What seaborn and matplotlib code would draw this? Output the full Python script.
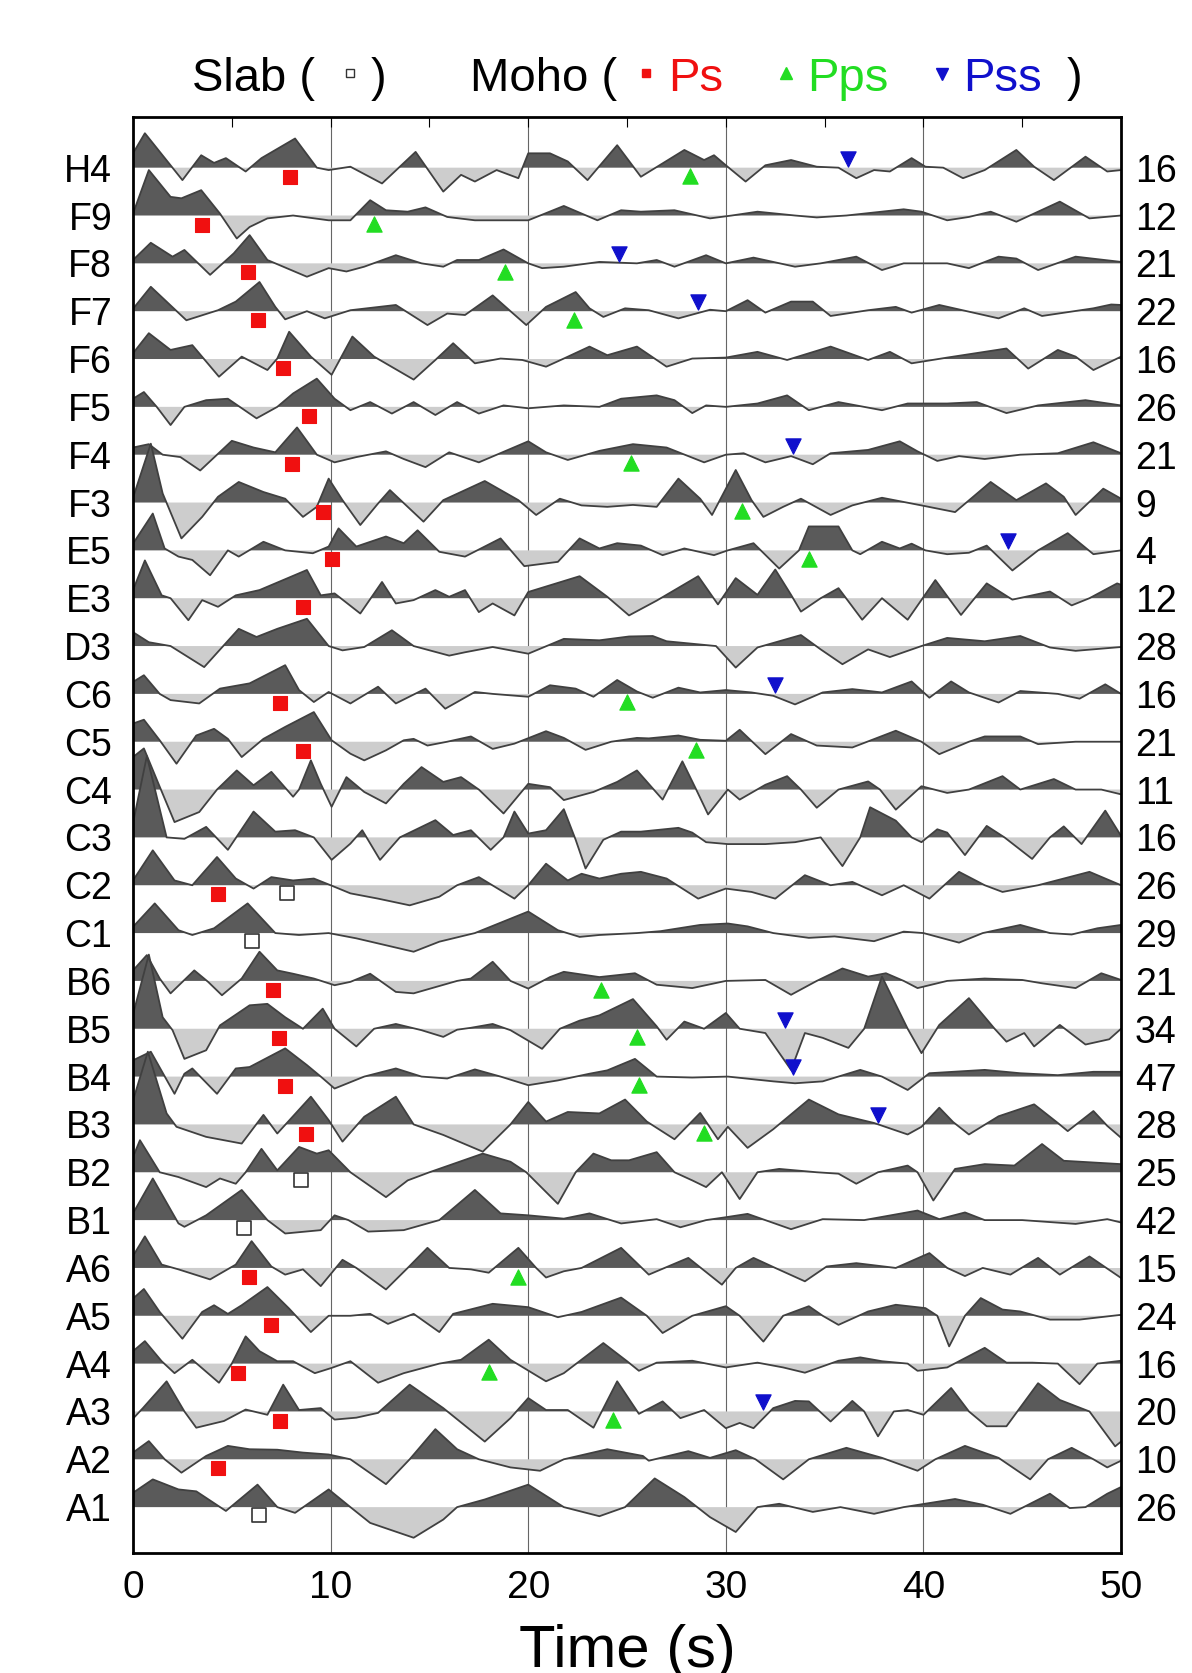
import numpy as np
import seaborn as sns
import matplotlib
matplotlib.use("Agg")
import matplotlib.pyplot as plt

# stations from top to bottom and the count shown at the right
stations = ["H4", "F9", "F8", "F7", "F6", "F5", "F4", "F3", "E5", "E3", "D3",
            "C6", "C5", "C4", "C3", "C2", "C1", "B6", "B5", "B4", "B3", "B2",
            "B1", "A6", "A5", "A4", "A3", "A2", "A1"]
counts = [16, 12, 21, 22, 16, 26, 21, 9, 4, 12, 28, 16, 21, 11, 16, 26, 29,
          21, 34, 47, 28, 25, 42, 15, 24, 16, 20, 10, 26]

# traces: (time s, amplitude in trace spacings)
H4 = [(0, 0.3), (0.6, 0.72), (2.5, -0.26), (3.45, 0.26), (4.1, 0.1), (4.7, 0.2), (5.7, -0.08), (6.5, 0.2), (8.2, 0.61), (9.3, 0), (9.9, -0.05), (11.0, 0.02), (12.6, -0.33), (14.3, 0.33), (15.7, -0.5), (16.6, -0.15), (17.3, -0.29), (18.4, -0.05), (19.5, -0.22), (20.0, 0.3), (21.1, 0.3), (22.0, 0.13), (23.0, -0.26), (24.5, 0.47), (25.7, -0.19), (27.9, 0.37), (28.9, 0.16), (29.4, 0.26), (30.0, 0.05), (31.0, -0.29), (32.0, 0.05), (33.3, 0.16), (34.6, 0.02), (35.7, 0), (36.6, -0.22), (37.5, -0.05), (38.3, -0.08), (39.4, 0.2), (40.1, 0.02), (41.0, 0), (42.0, -0.22), (43.1, -0.05), (44.7, 0.37), (45.6, 0.02), (46.6, -0.26), (48.2, 0.23), (49.3, -0.08), (50, -0.05)]
F9 = [(0, 0.04), (0.8, 0.95), (1.9, 0.39), (2.45, 0.36), (3.45, 0.53), (4.4, 0.04), (5.25, -0.48), (5.9, -0.24), (6.8, -0.06), (8.1, 0), (9.9, -0.1), (11.0, -0.1), (12.0, 0.32), (12.8, 0.11), (13.9, 0.08), (14.8, 0.17), (15.9, -0.03), (17.3, -0.1), (18.8, -0.1), (20.0, -0.1), (21.8, 0.2), (23.5, -0.1), (24.7, 0.11), (25.7, 0.08), (27.4, 0.11), (29.2, -0.06), (30.3, 0), (31.6, 0.08), (33.5, 0), (34.6, -0.04), (36.1, 0), (39.0, 0.13), (39.9, 0.08), (41.2, -0.1), (42.3, -0.03), (43.4, 0.08), (44.7, -0.13), (46.9, 0.29), (48.4, -0.06), (50, 0)]
F8 = [(0, 0.07), (0.9, 0.43), (2.0, 0.14), (2.6, 0.28), (3.9, -0.24), (5.1, 0.21), (5.9, 0.59), (6.8, 0.07), (8.8, -0.28), (9.9, -0.1), (10.8, -0.17), (11.7, -0.07), (13.3, 0.17), (14.6, 0), (15.7, -0.07), (16.4, 0.07), (17.5, 0.07), (18.75, 0.29), (20.0, 0), (20.7, -0.1), (21.8, -0.07), (23.6, 0.03), (25.5, 0), (26.5, 0.07), (27.4, -0.07), (29.0, 0.17), (30.0, 0), (31.4, 0.12), (33.5, -0.07), (34.8, 0), (36.6, 0.14), (37.9, -0.14), (39.0, 0), (41.2, 0), (42.3, -0.1), (43.8, 0.14), (44.7, 0.1), (45.8, -0.14), (47.7, 0.14), (50, 0.03)]
F7 = [(0, 0.05), (0.9, 0.51), (2.7, -0.19), (4.3, 0.02), (5.2, 0.2), (6.4, 0.61), (7.2, 0.09), (7.7, -0.17), (8.8, 0), (9.7, -0.15), (11.0, 0.02), (13.3, 0.13), (14.9, -0.29), (15.9, -0.05), (16.8, -0.08), (18.2, 0.33), (19.1, 0), (19.9, -0.29), (20.9, 0.09), (22.4, 0.4), (23.1, 0.06), (23.8, -0.12), (24.9, 0.06), (26.1, 0.02), (27.6, -0.15), (29.2, 0.03), (30.0, 0), (31.1, 0.23), (32.0, -0.03), (33.3, 0.2), (34.4, 0.2), (35.3, -0.1), (37.2, 0.02), (38.6, 0.09), (39.4, -0.03), (40.8, 0.13), (43.8, -0.15), (45.1, 0.06), (46.0, -0.1), (48.6, 0.06), (49.5, 0.14), (50, 0.13)]
F6 = [(0, 0.12), (0.8, 0.54), (1.9, 0.19), (3.0, 0.29), (4.35, -0.37), (5.5, 0.05), (6.8, -0.23), (7.3, 0.01), (7.9, 0.57), (9.0, 0.05), (10.05, -0.33), (11.1, 0.47), (12.2, 0.05), (14.2, -0.43), (15.3, -0.02), (16.2, 0.33), (17.3, -0.09), (18.6, 0.01), (19.7, -0.02), (20.9, -0.16), (21.8, 0.01), (23.1, 0.26), (24.0, 0.08), (25.5, 0.26), (27.0, -0.16), (28.3, 0.01), (30.0, 0.03), (31.6, 0.15), (33.1, -0.02), (35.3, 0.26), (37.2, -0.02), (38.3, 0.15), (39.4, -0.09), (41.2, 0.03), (44.2, 0.22), (45.3, -0.2), (46.8, 0.19), (47.7, 0.05), (48.6, -0.23), (50, 0.05)]
F5 = [(0, 0.17), (0.55, 0.31), (1.2, 0), (1.9, -0.38), (2.6, 0), (3.7, 0.14), (4.8, 0.17), (6.25, -0.24), (7.3, 0), (8.1, 0.28), (9.3, 0.59), (10.2, 0.17), (11.0, -0.07), (12.0, 0.1), (13.1, -0.14), (14.2, 0.1), (15.3, -0.17), (16.4, 0.1), (17.5, -0.14), (18.75, 0.03), (20.0, -0.03), (21.8, 0.03), (23.6, 0), (24.7, 0.17), (26.5, 0.24), (27.4, 0.14), (28.3, -0.13), (29.0, 0.03), (30.0, 0), (31.6, 0.07), (33.1, 0.24), (34.2, -0.07), (35.7, 0.1), (37.9, -0.07), (39.2, 0.07), (41.2, 0.07), (42.7, 0.1), (44.2, -0.13), (45.8, 0.03), (48.2, 0.14), (50, 0.03)]
F4 = [(0, 0.15), (0.8, 0.22), (1.5, 0), (2.4, -0.05), (3.4, -0.33), (5.0, 0.29), (6.1, 0.15), (7.2, 0.05), (8.3, 0.57), (9.3, 0), (10.2, -0.16), (11.3, -0.05), (12.8, 0.07), (13.7, -0.09), (14.8, -0.26), (16.0, 0.05), (17.5, -0.16), (20.0, 0.28), (20.9, 0.05), (22.0, -0.11), (23.6, 0.08), (25.3, 0.22), (27.0, 0.15), (28.9, -0.16), (30.0, 0), (30.9, 0.03), (32.0, -0.16), (33.3, -0.03), (34.4, -0.2), (35.3, 0.03), (37.2, 0.1), (38.8, 0.28), (39.7, 0.07), (40.7, -0.13), (41.8, -0.03), (43.1, -0.09), (44.9, 0), (46.8, 0.03), (48.6, 0.26), (50, 0.03)]
F3 = [(0, 0.1), (0.9, 1.23), (1.5, 0.19), (2.45, -0.75), (3.5, -0.3), (4.3, 0.12), (5.35, 0.43), (6.6, 0.22), (7.7, 0.08), (8.6, -0.3), (9.3, -0.09), (9.9, 0.5), (10.6, 0.05), (11.5, -0.47), (12.4, -0.02), (13.0, 0.26), (13.9, -0.09), (14.7, -0.4), (15.7, 0.05), (17.8, 0.45), (19.5, 0.05), (20.4, -0.26), (21.6, 0.08), (22.7, -0.06), (24.0, -0.09), (25.3, -0.05), (26.5, -0.09), (27.6, 0.5), (28.7, 0.08), (29.3, -0.26), (30.5, 0.68), (31.3, 0.05), (31.9, -0.3), (32.9, -0.09), (33.8, 0.08), (35.3, -0.26), (36.4, -0.06), (37.9, 0.1), (39.9, -0.06), (41.6, -0.2), (43.4, 0.43), (44.7, 0.05), (46.2, 0.4), (47.1, 0.12), (47.7, -0.26), (49.1, 0.29), (50, 0.08)]
E5 = [(0, 0.14), (1.0, 0.77), (1.6, 0.04), (2.3, -0.13), (3.0, -0.2), (3.9, -0.52), (4.8, 0), (5.35, -0.13), (6.6, 0.18), (7.7, 0), (9.1, -0.06), (9.9, 0.08), (10.4, 0.46), (11.3, 0.08), (12.8, 0.29), (13.7, 0.15), (14.4, 0.42), (15.5, -0.03), (16.8, -0.13), (18.6, 0.25), (19.8, -0.33), (21.5, -0.24), (22.6, 0.25), (23.6, 0.04), (24.5, 0.15), (25.7, 0.1), (26.8, -0.1), (27.9, 0.04), (29.4, -0.1), (30.1, 0), (31.4, 0.15), (32.7, -0.38), (33.7, 0), (34.2, 0.5), (35.7, 0.5), (36.4, 0), (36.8, -0.08), (37.9, 0.18), (38.8, 0.04), (39.4, 0.14), (40.1, 0), (41.2, -0.08), (42.3, -0.05), (43.2, 0.1), (44.5, -0.42), (45.8, 0), (47.3, 0.36), (48.6, -0.08), (50, 0)]
E3 = [(0, 0.17), (0.6, 0.79), (1.45, 0.06), (1.9, 0), (2.8, -0.46), (3.5, -0.04), (4.3, -0.18), (5.2, 0.06), (6.4, 0.17), (8.8, 0.59), (9.5, 0.06), (10.2, 0.1), (11.5, -0.32), (12.6, 0.34), (13.3, -0.11), (14.2, -0.04), (15.3, 0.17), (16.0, 0.03), (16.8, 0.17), (17.5, -0.29), (18.2, -0.11), (19.3, -0.36), (20.0, 0.13), (22.6, 0.46), (24.0, 0.03), (25.1, -0.36), (26.5, -0.05), (28.6, 0.46), (29.6, -0.13), (30.5, 0.42), (31.6, 0.07), (32.5, 0.6), (33.3, 0.07), (33.8, -0.28), (34.8, 0), (35.7, 0.21), (36.9, -0.45), (37.9, 0), (39.2, -0.45), (40.6, 0.38), (41.9, -0.35), (43.2, 0.31), (44.5, -0.03), (46.4, 0.14), (47.5, -0.15), (48.4, 0), (49.8, 0.31), (50, 0.28)]
D3 = [(0, 0.29), (0.8, 0.08), (1.9, 0), (3.6, -0.44), (5.35, 0.36), (6.25, 0.19), (7.3, 0.36), (8.8, 0.57), (9.9, 0), (10.6, -0.09), (11.7, -0.02), (13.1, 0.33), (14.2, 0), (16.0, -0.2), (16.8, -0.13), (18.2, -0.02), (20.0, -0.16), (21.8, 0.15), (23.6, 0.12), (25.1, 0.2), (26.3, 0.21), (27.0, 0.1), (29.5, 0), (30.5, -0.45), (31.6, -0.03), (33.8, 0.23), (34.8, -0.07), (35.9, -0.38), (37.2, -0.07), (38.3, -0.23), (39.9, 0), (41.2, 0.17), (43.1, 0.1), (44.9, 0.21), (46.4, -0.03), (47.7, -0.1), (50, -0.02)]
C6 = [(0, 0.25), (0.55, 0.39), (1.35, 0), (1.9, -0.13), (3.35, -0.2), (4.4, 0.11), (5.9, 0.22), (7.7, 0.6), (8.4, 0.08), (9.15, -0.17), (9.9, 0.04), (11.0, -0.2), (12.4, 0.15), (13.3, -0.2), (14.8, 0.11), (15.8, -0.31), (17.3, 0.04), (18.2, 0), (20.0, -0.06), (21.1, 0.18), (22.4, 0.11), (23.3, -0.06), (24.5, 0.29), (25.5, 0.05), (26.3, -0.08), (27.6, 0.13), (28.7, 0.03), (30.0, 0.08), (31.3, 0.03), (32.4, -0.04), (33.5, -0.22), (34.9, 0.03), (36.4, 0.1), (37.9, 0.03), (39.4, 0.26), (40.3, -0.08), (41.4, 0.26), (42.3, 0.03), (43.8, -0.18), (44.9, 0.06), (46.8, 0), (47.9, -0.1), (49.2, 0.2), (50, 0)]
C5 = [(0, 0.38), (0.55, 0.46), (1.35, 0.03), (2.2, -0.46), (3.2, 0.13), (4.1, 0.27), (4.8, 0.06), (5.5, -0.32), (6.6, 0.06), (7.7, 0.31), (9.15, 0.62), (10.05, 0.03), (11.0, -0.25), (11.7, -0.39), (12.8, -0.18), (13.7, 0.03), (14.2, 0.06), (14.9, -0.08), (15.9, 0), (17.1, 0.11), (18.2, -0.15), (19.3, -0.04), (20.9, 0.22), (21.8, 0.08), (22.9, -0.17), (24.2, 0), (25.5, 0.08), (26.1, 0.07), (27.6, 0.13), (28.7, 0.04), (30.0, 0.02), (30.7, 0.25), (32.0, -0.26), (33.3, 0.16), (34.6, -0.08), (36.4, -0.12), (38.6, 0.23), (39.9, 0), (40.8, -0.26), (42.3, 0), (43.1, 0.11), (44.9, 0.11), (45.8, -0.05), (47.7, 0), (50, 0)]
C4 = [(0, 0.68), (0.55, 0.86), (1.35, 0.06), (2.1, -0.68), (3.35, -0.47), (4.25, 0), (5.25, 0.4), (6.1, 0.09), (7.0, 0.37), (8.1, -0.15), (8.4, 0), (9.0, 0.61), (9.5, 0.12), (10.05, -0.36), (10.8, 0.26), (11.7, -0.05), (12.8, -0.29), (13.7, 0.12), (14.6, 0.47), (15.7, 0.16), (16.6, 0.26), (17.5, 0), (18.75, -0.5), (20.0, 0.12), (21.1, 0.05), (21.8, -0.22), (23.3, -0.05), (24.5, 0.16), (25.5, 0.4), (26.8, -0.21), (27.8, 0.59), (28.5, 0), (29.1, -0.52), (30.1, 0), (30.7, -0.21), (32.0, 0.1), (33.1, 0.28), (33.8, 0), (34.6, -0.38), (35.7, 0), (37.2, 0.17), (37.8, 0), (38.6, -0.42), (39.9, 0.07), (41.2, -0.07), (42.3, 0), (44.0, 0.28), (44.9, 0), (46.6, 0.22), (47.7, 0), (49.0, 0), (50, -0.1)]
C3 = [(0, 0.3), (0.7, 1.7), (1.7, 0), (2.6, -0.03), (3.7, 0.22), (4.8, -0.26), (6.1, 0.54), (7.2, 0.12), (8.2, 0.15), (9.15, 0), (10.05, -0.47), (11.0, -0.13), (11.6, 0.15), (12.5, -0.47), (13.5, 0), (15.3, 0.36), (16.2, 0.05), (17.1, 0.15), (18.1, -0.26), (18.75, 0), (19.3, 0.54), (20.0, 0.08), (20.9, 0.15), (21.8, 0.59), (22.4, -0.05), (22.9, -0.65), (23.8, -0.05), (24.7, 0.12), (25.7, 0.12), (27.6, 0.2), (28.3, 0.1), (29.0, -0.1), (30.1, -0.14), (32.0, -0.14), (33.5, -0.1), (34.8, 0), (35.9, -0.6), (36.8, 0), (37.3, 0.63), (38.6, 0.35), (39.4, 0), (39.9, -0.1), (40.7, 0.17), (41.2, 0.1), (42.1, -0.37), (43.2, 0.24), (44.1, 0), (45.5, -0.45), (46.4, 0), (47.1, 0.23), (48.0, -0.14), (49.2, 0.56), (50, 0.03)]
C2 = [(0, 0.1), (1.0, 0.73), (2.1, 0.1), (3.0, 0), (4.25, 0.59), (5.2, 0.14), (6.1, -0.07), (7.0, 0.17), (8.1, 0.1), (9.15, 0.14), (10.0, 0), (11.0, -0.17), (12.4, -0.28), (14.0, -0.42), (15.5, -0.24), (16.4, 0), (17.5, 0.17), (19.3, -0.28), (20.0, 0), (20.9, 0.45), (22.0, 0.1), (22.7, 0.24), (23.6, 0.14), (24.7, 0.24), (25.7, 0.28), (27.0, 0.14), (28.6, -0.28), (30.0, -0.07), (31.3, -0.14), (32.5, -0.28), (34.0, 0.21), (35.3, 0), (36.4, 0.07), (37.9, -0.21), (39.0, 0), (40.3, -0.28), (41.8, 0.28), (43.1, 0), (44.0, -0.14), (45.8, 0), (48.4, 0.28), (50, 0)]
C1 = [(0, 0.13), (1.1, 0.62), (2.3, 0.06), (3.0, -0.04), (4.1, 0.1), (5.8, 0.62), (7.2, 0), (8.4, -0.04), (9.9, 0), (11.3, -0.11), (14.2, -0.39), (15.5, -0.18), (17.3, 0), (20.0, 0.45), (21.5, 0.06), (22.6, -0.08), (23.6, -0.04), (25.5, 0), (26.7, 0.04), (28.7, 0.17), (30.1, 0.2), (31.1, 0.14), (32.4, 0), (34.2, -0.1), (35.5, -0.07), (37.5, -0.17), (39.0, 0.03), (40.0, 0), (41.8, -0.2), (43.0, 0), (44.9, 0.17), (46.4, 0), (47.5, -0.03), (48.8, 0.1), (50, 0.17)]
B6 = [(0, 0.22), (0.7, 0.54), (1.35, 0.05), (1.9, -0.26), (3.1, 0.22), (3.8, -0.02), (4.5, -0.3), (5.5, 0.05), (6.4, 0.61), (7.3, 0.22), (8.1, 0.15), (9.15, 0.05), (10.2, -0.09), (11.0, -0.02), (12.0, 0.15), (13.3, -0.23), (14.2, -0.26), (15.3, -0.13), (16.4, 0), (17.1, 0.05), (18.2, 0.4), (19.1, 0), (20.0, -0.16), (21.1, 0.08), (21.8, 0.19), (23.6, 0.08), (25.4, 0.16), (26.5, -0.08), (28.3, -0.15), (30.0, 0), (32.0, 0.02), (33.3, -0.29), (34.6, 0), (35.9, 0.26), (37.2, 0.09), (38.1, 0.16), (39.0, 0), (39.7, -0.15), (41.2, 0), (43.1, 0.05), (45.0, 0.02), (46.0, -0.05), (47.7, -0.15), (49.0, 0.16), (50, 0.02)]
B5 = [(0, 0.3), (0.8, 1.55), (1.5, 0.24), (2.0, -0.03), (2.6, -0.63), (3.7, -0.45), (4.4, 0.07), (5.9, 0.49), (6.8, 0.52), (7.7, 0.24), (8.6, 0), (9.6, 0.42), (10.2, 0), (11.3, -0.37), (12.2, 0), (13.3, 0.1), (14.6, -0.03), (15.7, -0.17), (16.4, -0.02), (17.1, 0.02), (18.2, 0.1), (19.1, -0.03), (20.7, -0.42), (21.6, 0), (22.6, 0.17), (23.6, 0.28), (25.3, 0.62), (26.5, 0.05), (27.0, -0.23), (27.9, 0.15), (28.9, 0), (30.0, 0.33), (30.7, 0), (32.0, -0.09), (33.3, -0.86), (34.0, -0.09), (34.9, -0.19), (36.2, -0.4), (37.0, 0), (37.9, 1.09), (39.2, 0), (39.9, -0.51), (40.8, 0.08), (42.3, 0.64), (43.6, 0), (44.2, -0.27), (45.1, -0.09), (45.6, -0.37), (46.9, 0.08), (48.2, -0.33), (49.4, -0.22), (50, 0)]
B4 = [(0, 0.34), (0.9, 0.52), (2.1, -0.36), (2.6, 0.06), (3.0, 0.17), (4.25, -0.36), (5.2, 0.17), (5.9, 0.2), (7.7, 0.59), (8.8, 0.24), (9.5, 0), (10.2, -0.25), (11.7, 0), (13.3, 0.17), (14.6, 0), (15.9, -0.04), (17.3, 0.15), (18.6, 0), (20.0, -0.18), (21.5, -0.08), (23.1, 0.06), (24.0, 0.13), (25.4, 0.37), (26.5, 0), (28.3, -0.02), (30.1, 0), (32.4, -0.1), (33.5, -0.14), (34.9, -0.1), (36.8, 0.14), (37.9, 0), (39.2, -0.28), (40.3, 0.07), (43.1, 0.14), (44.9, 0.07), (46.8, 0.03), (48.6, 0.1), (50, 0.1)]
B3 = [(0, 0.5), (0.75, 1.52), (1.7, 0.23), (2.2, -0.05), (3.7, -0.26), (5.5, -0.4), (6.6, 0.2), (7.3, -0.19), (9.0, 0.58), (9.9, 0.09), (10.6, -0.36), (11.7, 0.16), (13.3, 0.58), (14.2, 0), (15.7, -0.22), (17.7, -0.57), (19.1, 0), (20.0, 0.47), (20.9, 0.06), (22.0, 0.26), (23.6, 0.23), (24.9, 0.52), (26.0, 0.06), (27.4, -0.31), (28.7, 0.24), (29.6, -0.31), (30.1, -0.05), (31.1, -0.49), (32.4, -0.1), (34.2, 0.52), (35.7, 0.21), (37.5, 0.03), (39.2, -0.21), (39.9, -0.05), (40.8, 0.35), (41.5, 0.05), (42.3, -0.21), (43.8, 0.17), (45.6, 0.42), (46.8, 0.03), (47.3, -0.14), (48.6, 0.28), (49.3, -0.03), (50, -0.28)]
B2 = [(0, 0.32), (0.35, 0.67), (1.35, 0), (2.3, -0.1), (3.7, -0.31), (4.4, -0.13), (5.2, -0.24), (5.7, 0), (6.5, 0.49), (7.3, 0.04), (8.4, 0.53), (9.3, 0.39), (9.9, 0.46), (11.0, 0), (12.8, -0.52), (13.9, -0.17), (15.0, 0), (17.7, 0.39), (19.1, 0.22), (19.9, 0), (21.5, -0.66), (22.4, 0), (23.3, 0.39), (24.2, 0.25), (25.1, 0.25), (26.5, 0.42), (27.4, 0), (28.3, -0.17), (29.0, -0.31), (29.8, 0), (30.7, -0.56), (31.6, 0), (32.7, 0.07), (34.6, 0), (35.7, -0.03), (36.6, -0.24), (37.7, 0), (39.2, 0.14), (39.7, 0), (40.5, -0.59), (41.6, 0.07), (43.1, 0.17), (44.6, 0.14), (46.0, 0.59), (47.1, 0.24), (50, 0.17)]
B1 = [(0, 0.14), (1.0, 0.87), (2.3, -0.07), (2.6, -0.14), (3.7, 0.1), (5.5, 0.63), (6.8, 0), (7.7, -0.28), (9.5, -0.21), (10.2, 0.1), (10.9, 0), (11.9, -0.24), (13.7, -0.21), (15.5, 0), (17.3, 0.63), (18.6, 0.14), (20.0, 0.1), (21.8, 0.03), (23.1, 0.14), (24.7, -0.07), (26.5, 0.02), (27.7, -0.15), (29.0, 0), (30.0, 0.06), (31.1, 0.13), (33.3, -0.19), (34.9, 0.02), (37.0, 0), (39.7, 0.2), (40.8, 0.02), (42.1, 0.16), (43.1, 0), (45.0, 0), (47.7, -0.08), (49.3, 0.02), (50, -0.05)]
A6 = [(0, 0.25), (0.6, 0.66), (1.45, 0.07), (2.3, -0.03), (3.9, -0.24), (5.2, 0.07), (6.0, 0.56), (7.0, 0.03), (7.7, -0.14), (8.6, -0.03), (9.5, -0.38), (10.6, 0.17), (11.3, 0), (12.8, -0.45), (13.9, 0), (14.9, 0.42), (16.0, 0), (17.1, -0.03), (18.0, -0.1), (19.5, 0.42), (20.4, 0), (20.9, -0.2), (21.8, -0.07), (22.7, 0), (24.7, 0.42), (26.1, -0.14), (28.1, 0.21), (29.8, -0.35), (30.5, 0), (31.4, 0.21), (32.5, 0), (34.0, -0.28), (35.1, 0.03), (36.6, 0.1), (38.6, 0), (40.3, 0.31), (41.2, 0), (42.1, -0.17), (43.0, 0), (44.4, -0.14), (45.8, 0.21), (46.9, -0.14), (48.4, 0.24), (50, -0.21)]
A5 = [(0, 0.36), (0.55, 0.56), (1.35, 0.08), (2.5, -0.48), (3.5, 0.08), (4.1, 0.22), (4.8, 0.04), (5.5, 0.22), (6.8, 0.6), (7.9, 0.15), (9.0, -0.34), (9.9, 0), (11.0, 0), (12.0, 0.04), (12.9, -0.17), (14.2, 0.04), (15.5, -0.34), (16.2, 0.04), (18.2, 0.25), (20.0, 0.18), (21.5, -0.03), (22.7, 0.08), (24.7, 0.38), (26.0, 0.0), (26.8, -0.36), (28.3, 0), (30.0, 0.2), (30.7, 0), (31.9, -0.54), (32.9, 0), (34.2, 0.2), (34.9, 0), (35.7, -0.19), (37.2, 0.09), (38.6, 0.23), (40.1, 0.16), (40.7, 0), (41.3, -0.64), (42.1, 0), (42.9, 0.37), (44.0, 0.13), (44.9, 0.09), (46.4, -0.08), (47.9, -0.08), (50, 0.02)]
A4 = [(0, 0.26), (0.6, 0.47), (1.45, 0.05), (2.1, -0.2), (3.0, 0.08), (4.35, -0.4), (5.0, 0), (5.7, 0.57), (6.4, 0.26), (7.3, 0.05), (8.1, 0.05), (9.2, -0.2), (10.05, -0.09), (11.0, 0.05), (12.4, -0.4), (13.7, -0.2), (15.5, 0), (16.6, 0.08), (18.0, 0.5), (19.1, 0.08), (20.9, -0.37), (21.8, -0.2), (23.8, 0.43), (25.0, 0.05), (25.6, -0.15), (26.5, 0.02), (28.3, 0.06), (30.0, -0.08), (31.6, 0.02), (32.9, -0.08), (34.0, -0.19), (35.7, 0.06), (36.8, 0.13), (37.9, 0.05), (39.2, 0), (39.7, -0.15), (41.2, -0.08), (43.1, 0.33), (44.2, 0.02), (45.5, 0.02), (46.8, 0), (47.9, -0.43), (48.8, 0), (50, 0.06)]
A3 = [(0, -0.15), (0.5, 0.07), (1.7, 0.63), (2.6, 0), (3.2, -0.34), (4.6, -0.2), (5.7, 0.04), (6.8, -0.07), (7.6, 0.56), (8.4, 0.03), (9.5, 0.07), (10.2, -0.17), (11.3, -0.13), (12.4, -0.03), (14.0, 0.56), (15.7, 0.07), (17.8, -0.63), (19.1, -0.14), (20.0, 0.28), (20.9, 0.03), (22.0, 0.03), (23.3, -0.34), (24.5, 0.63), (25.6, -0.05), (26.8, 0.21), (27.7, -0.14), (28.9, 0.03), (30.0, -0.35), (30.7, -0.24), (31.4, -0.35), (32.4, 0.07), (33.5, 0.22), (34.2, 0.21), (35.3, -0.21), (36.4, 0.22), (37.0, 0), (37.7, -0.52), (38.5, 0), (39.2, 0.03), (40.0, -0.07), (41.4, 0.49), (42.3, 0), (43.2, -0.31), (44.2, -0.31), (45.8, 0.59), (46.9, 0.24), (48.4, 0), (49.7, -0.73), (50, -0.63)]
A2 = [(0, 0.14), (0.8, 0.38), (1.6, 0), (2.45, -0.28), (3.7, 0.07), (4.8, 0.28), (5.9, 0.21), (7.3, 0.2), (8.6, 0.14), (9.9, 0.1), (11.0, 0), (12.8, -0.52), (14.0, 0), (15.3, 0.63), (16.4, 0.21), (17.5, 0), (19.1, -0.17), (20.6, -0.24), (21.8, 0), (24.0, 0.21), (25.8, 0.07), (26.1, -0.03), (28.1, 0.17), (29.2, 0.03), (30.5, 0.19), (31.5, 0), (32.9, -0.42), (34.2, 0), (36.1, 0.24), (37.9, 0.03), (39.7, -0.24), (40.6, 0), (42.1, 0.28), (43.8, 0.03), (45.4, -0.42), (46.3, 0), (47.5, 0.24), (48.6, 0), (49.3, -0.17), (50, -0.03)]
A1 = [(0, 0.3), (1.0, 0.58), (2.3, 0.37), (3.2, 0.33), (4.7, -0.08), (6.3, 0.47), (7.3, 0), (8.2, -0.12), (9.9, 0.37), (11.0, 0), (12.0, -0.33), (14.2, -0.64), (15.7, -0.26), (16.4, 0), (17.8, 0.16), (20.0, 0.47), (21.8, 0), (23.6, -0.19), (24.9, 0), (26.4, 0.6), (27.9, 0.21), (29.2, -0.21), (30.5, -0.52), (31.6, 0), (32.7, 0.07), (34.4, -0.1), (35.8, 0), (37.5, -0.14), (39.0, 0), (41.6, 0.17), (43.0, 0.05), (44.4, -0.14), (46.4, 0.28), (47.4, -0.02), (48.2, 0.0), (49.3, 0.28), (50, 0.42)]

traces = [H4, F9, F8, F7, F6, F5, F4, F3, E5, E3, D3, C6, C5, C4, C3, C2, C1,
          B6, B5, B4, B3, B2, B1, A6, A5, A4, A3, A2, A1]

# picked phases
ps_station = ["H4", "F9", "F8", "F7", "F6", "F5", "F4", "F3", "E5", "E3", "C6",
              "C5", "C2", "B6", "B5", "B4", "B3", "A6", "A5", "A4", "A3", "A2"]
ps_time = [7.95, 3.5, 5.8, 6.3, 7.6, 8.9, 8.05, 9.6, 10.05, 8.6, 7.45,
           8.6, 4.3, 7.1, 7.4, 7.7, 8.75, 5.85, 7.0, 5.3, 7.45, 4.3]
pps_station = ["H4", "F9", "F8", "F7", "F4", "F3", "E5", "C6", "C5", "B6",
               "B5", "B4", "B3", "A6", "A4", "A3"]
pps_time = [28.2, 12.2, 18.8, 22.3, 25.2, 30.8, 34.2, 25.0, 28.5, 23.7,
            25.5, 25.6, 28.9, 19.5, 18.0, 24.3]
pss_station = ["H4", "F8", "F7", "F4", "E5", "C6", "B5", "B4", "B3", "A3"]
pss_time = [36.2, 24.6, 28.6, 33.4, 44.3, 32.5, 33.0, 33.4, 37.7, 31.9]
slab_station = ["C2", "C1", "B2", "B1", "A1"]
slab_time = [7.8, 6.0, 8.5, 5.6, 6.4]

sns.set_style("white")
plt.rcParams["font.family"] = ["Liberation Sans", "DejaVu Sans"]
plt.rcParams["text.color"] = "black"
plt.rcParams["axes.labelcolor"] = "black"
plt.rcParams["xtick.color"] = "black"
plt.rcParams["ytick.color"] = "black"

dark = "#5a5a5a"
light = "#cdcdcd"
red, green, blue = "#f01010", "#22dd22", "#1010cc"

fig = plt.figure(figsize=(11.92, 16.73), dpi=100)
ax = fig.add_axes([0.1116, 0.0717, 0.8289, 0.8581])

n = len(stations)
base = {s: n - 1 - i for i, s in enumerate(stations)}

for x in [10, 20, 30, 40]:
    ax.axvline(x, color="#666666", lw=0.8, zorder=0.5)

for s, pts in zip(stations, traces):
    b = base[s]
    t = np.array([p[0] for p in pts])
    a = np.array([p[1] for p in pts])
    ax.fill_between(t, b, b + a, where=a >= 0, interpolate=True, color=dark, lw=0)
    ax.fill_between(t, b, b + a, where=a <= 0, interpolate=True, color=light, lw=0)
    sns.lineplot(x=t, y=b + a, ax=ax, color="#404040", lw=1.3, sort=False,
                 estimator=None)

sns.scatterplot(x=ps_time, y=[base[s] - 0.19 for s in ps_station], ax=ax,
                marker="s", s=95, color=red, edgecolor=red, zorder=10)
sns.scatterplot(x=pps_time, y=[base[s] - 0.18 for s in pps_station], ax=ax,
                marker="^", s=120, color=green, edgecolor=green, zorder=10)
sns.scatterplot(x=pss_time, y=[base[s] + 0.19 for s in pss_station], ax=ax,
                marker="v", s=120, color=blue, edgecolor=blue, zorder=10)
sns.scatterplot(x=slab_time, y=[base[s] - 0.17 for s in slab_station], ax=ax,
                marker="s", s=95, color="white", edgecolor="#333333",
                linewidth=1.2, zorder=10)

ax.set_xlim(0, 50)
ax.set_ylim(-0.96, 29.05)
ax.set_xticks(range(0, 51, 10))
ax.set_xticks(range(5, 50, 10), minor=True)
ax.tick_params(axis="x", which="both", direction="in", top=True, length=7,
               width=0.8, labelsize=28, pad=12)
ax.set_yticks([base[s] for s in stations])
ax.set_yticklabels(stations)
ax.tick_params(axis="y", length=0, labelsize=27, pad=15)
ax.set_xlabel("Time (s)", fontsize=43, va="center")
ax.xaxis.set_label_coords(0.5, -0.0683)
for sp in ax.spines.values():
    sp.set_linewidth(2)
    sp.set_color("black")

ax2 = ax.twinx()
ax2.set_ylim(ax.get_ylim())
ax2.set_yticks([base[s] for s in stations])
ax2.set_yticklabels([str(c) for c in counts])
ax2.tick_params(axis="y", length=0, labelsize=27, pad=10)
for sp in ax2.spines.values():
    sp.set_visible(False)

# header legend
hy = 0.9458
my = 0.9566
fig.text(0.1611, hy, "Slab (", fontsize=34, va="baseline")
fig.text(0.3112, hy, ")", fontsize=34, va="baseline")
fig.text(0.3939, hy, "Moho (", fontsize=34, va="baseline")
fig.text(0.5604, hy, "Ps", fontsize=34, va="baseline", color=red)
fig.text(0.6770, hy, "Pps", fontsize=34, va="baseline", color=green)
fig.text(0.8084, hy, "Pss", fontsize=34, va="baseline", color=blue)
fig.text(0.8951, hy, ")", fontsize=34, va="baseline")
ax.plot([0.2936], [my], marker="s", ms=6, mfc="white", mec="#333333", mew=1,
        transform=fig.transFigure, clip_on=False)
ax.plot([0.5416], [my], marker="s", ms=6, color=red, transform=fig.transFigure,
        clip_on=False)
ax.plot([0.6598], [my], marker="^", ms=8, color=green, transform=fig.transFigure,
        clip_on=False)
ax.plot([0.7903], [my - 0.001], marker="v", ms=8, color=blue,
        transform=fig.transFigure, clip_on=False)

fig.savefig("out.png", dpi=100)
